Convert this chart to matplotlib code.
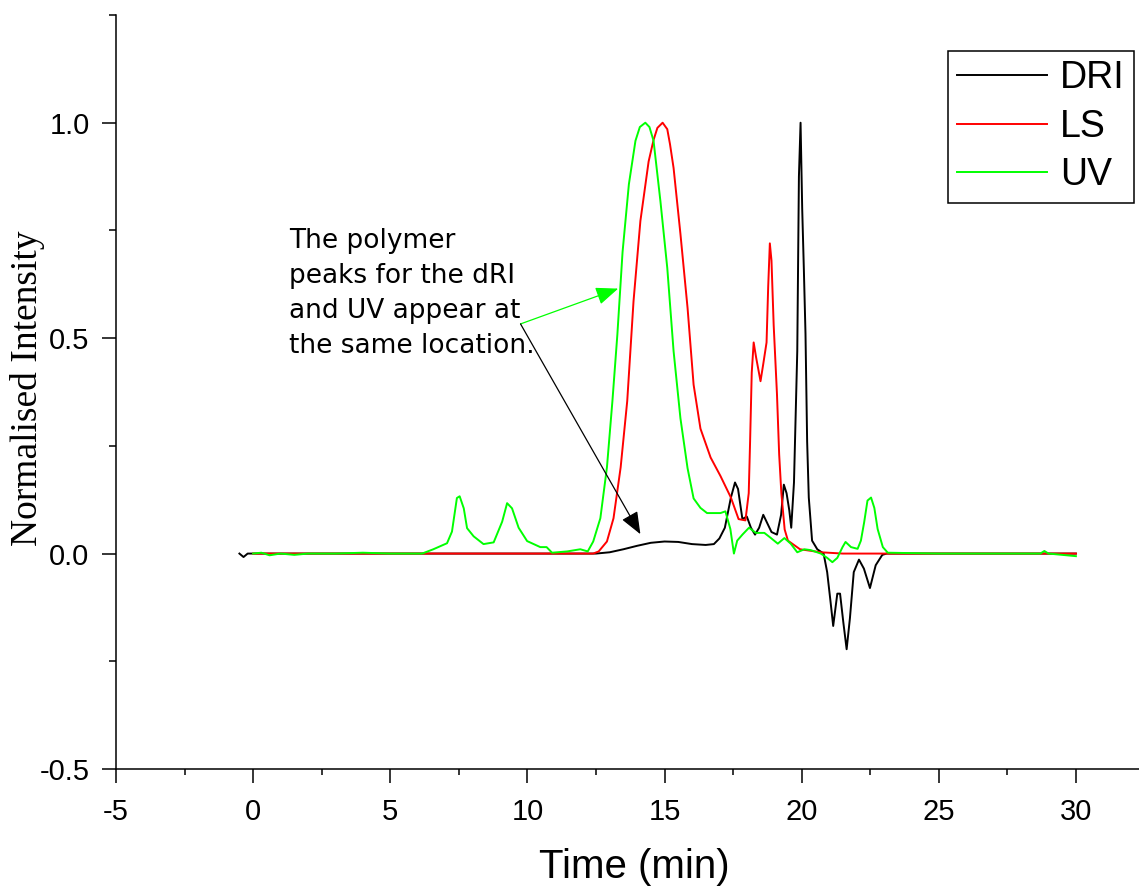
import matplotlib
matplotlib.use("Agg")
import matplotlib.pyplot as plt
from matplotlib.ticker import MultipleLocator

plt.rcParams["axes.unicode_minus"] = False

# ---- data ----
dri_t = [-0.5, -0.35, -0.2, 0.0, 5.0, 10.0, 12.5, 13.0, 13.5, 14.0, 14.5, 15.0,
         15.5, 16.0, 16.5, 16.8, 17.0, 17.2, 17.42, 17.57, 17.68, 17.84, 18.0,
         18.15, 18.3, 18.45, 18.6, 18.75, 18.9, 19.1, 19.25, 19.35, 19.45, 19.55,
         19.62, 19.72, 19.84, 19.9, 19.96, 20.02, 20.08, 20.14, 20.2,
         20.26, 20.38, 20.57, 20.8, 20.93, 21.05, 21.15, 21.3, 21.4, 21.52,
         21.64, 21.76, 21.9, 22.09, 22.27, 22.49, 22.7, 22.94, 23.1, 30.0]
dri_v = [0.0, -0.008, 0.0, 0.0, 0.0, 0.0, 0.0, 0.003, 0.01, 0.018, 0.025, 0.028,
         0.027, 0.022, 0.02, 0.022, 0.035, 0.06, 0.13, 0.165, 0.15, 0.08, 0.086,
         0.06, 0.044, 0.06, 0.09, 0.07, 0.05, 0.044, 0.09, 0.16, 0.14, 0.10,
         0.06, 0.165, 0.47, 0.875, 1.0, 0.8, 0.66, 0.51, 0.26,
         0.13, 0.03, 0.01, 0.0, -0.043, -0.11, -0.168, -0.093, -0.093, -0.16,
         -0.222, -0.15, -0.043, -0.014, -0.035, -0.08, -0.027, -0.003, 0.0, 0.0]

ls_t = [0.0, 12.4, 12.6, 12.9, 13.14, 13.4, 13.64, 13.87, 14.12, 14.42, 14.6,
        14.74, 14.93, 15.1, 15.2, 15.33, 15.58, 15.84, 16.06, 16.31, 16.68,
        17.04, 17.42, 17.7, 17.95, 18.07, 18.12, 18.18, 18.25, 18.34, 18.5,
        18.6, 18.72, 18.78, 18.84, 18.9, 18.98, 19.1, 19.18, 19.26, 19.38,
        19.5, 19.94, 20.7, 21.5, 30.0]
ls_v = [0.0, 0.0, 0.005, 0.028, 0.082, 0.2, 0.354, 0.586, 0.772, 0.91, 0.96,
        0.988, 1.0, 0.985, 0.95, 0.895, 0.742, 0.57, 0.392, 0.29, 0.223,
        0.18, 0.13, 0.08, 0.077, 0.14, 0.26, 0.42, 0.49, 0.455, 0.40,
        0.44, 0.49, 0.62, 0.72, 0.68, 0.53, 0.37, 0.23, 0.14, 0.056,
        0.03, 0.01, 0.003, 0.0, 0.0]

uv_t = [0.0, 0.3, 0.6, 1.0, 1.5, 2.0, 3.0, 4.0, 5.0, 6.16, 6.57, 7.07, 7.25,
        7.43, 7.53, 7.68, 7.8, 8.04, 8.4, 8.77, 9.08, 9.26, 9.44, 9.68, 9.99,
        10.47, 10.7, 10.9, 11.45, 11.93, 12.2, 12.4, 12.66, 12.9, 13.1, 13.28,
        13.47, 13.7, 13.94, 14.1, 14.3, 14.45, 14.6, 14.85, 15.1, 15.33, 15.58,
        15.84, 16.06, 16.31, 16.55, 17.04, 17.22, 17.4, 17.53, 17.65, 17.84,
        18.08, 18.33, 18.64, 18.88, 19.13, 19.37, 19.6, 19.84, 20.1, 20.33,
        20.7, 20.93, 21.12, 21.3, 21.49, 21.6, 21.8, 22.04, 22.16, 22.28,
        22.4, 22.53, 22.65, 22.77, 22.96, 23.14, 25.0, 28.7, 28.85, 29.0, 30.0]
uv_v = [0.0, 0.002, -0.004, 0.0, -0.003, 0.0, 0.0, 0.002, 0.0, 0.0, 0.01,
        0.024, 0.051, 0.129, 0.133, 0.105, 0.059, 0.04, 0.022, 0.026, 0.074,
        0.117, 0.105, 0.06, 0.029, 0.015, 0.015, 0.002, 0.005, 0.01, 0.005,
        0.028, 0.082, 0.2, 0.354, 0.508, 0.70, 0.857, 0.958, 0.99, 1.0, 0.99,
        0.958, 0.818, 0.663, 0.47, 0.314, 0.198, 0.128, 0.106, 0.094, 0.094,
        0.098, 0.057, 0.0, 0.03, 0.044, 0.06, 0.048, 0.048, 0.036, 0.023,
        0.036, 0.023, 0.003, 0.01, 0.008, 0.0, -0.01, -0.02, -0.01, 0.015,
        0.027, 0.015, 0.011, 0.03, 0.073, 0.123, 0.13, 0.106, 0.057, 0.015,
        0.002, 0.0, 0.0, 0.006, 0.0, -0.006]

series_labels = ["DRI", "LS", "UV"]
note_text = "The polymer\npeaks for the dRI\nand UV appear at\nthe same location."

# ---- figure ----
fig = plt.figure(figsize=(11.39, 8.92), dpi=100)
ax = fig.add_axes([116 / 1139, 123 / 892, 1023 / 1139, 754 / 892])

ax.plot(dri_t, dri_v, color="black", lw=1.4, label=series_labels[0])
ax.plot(ls_t, ls_v, color="#ff0000", lw=1.4, label=series_labels[1])
ax.plot(uv_t, uv_v, color="#00ff00", lw=1.4, label=series_labels[2])

ax.set_xlim(-5, 32.3)
ax.set_ylim(-0.5, 1.25)
ax.xaxis.set_major_locator(MultipleLocator(5))
ax.xaxis.set_minor_locator(MultipleLocator(2.5))
ax.yaxis.set_major_locator(MultipleLocator(0.5))
ax.yaxis.set_minor_locator(MultipleLocator(0.25))
ax.yaxis.set_major_formatter(plt.FormatStrFormatter("%.1f"))

for side in ("top", "right"):
    ax.spines[side].set_visible(False)
for side in ("left", "bottom"):
    ax.spines[side].set_linewidth(1.1)

ax.tick_params(axis="x", which="major", direction="out", length=10, width=1.1, pad=11)
ax.tick_params(axis="x", which="minor", direction="out", length=4.5, width=1.1)
ax.tick_params(axis="y", which="major", direction="out", length=10, width=1.1, pad=9)
ax.tick_params(axis="y", which="minor", direction="out", length=5, width=1.1)
for lab in ax.get_xticklabels() + ax.get_yticklabels():
    lab.set_fontfamily("Liberation Sans")
    lab.set_fontsize(21)

ax.set_xlabel("Time (min)", fontfamily="Liberation Sans", fontsize=29)
ax.xaxis.set_label_coords(0.507, -0.105)
ax.set_ylabel("Normalised Intensity", fontfamily="Liberation Serif", fontsize=27)
ax.yaxis.set_label_coords(-0.069, 0.505)

leg = ax.legend(loc="upper right", bbox_to_anchor=(1134 / 1139, 841 / 892),
                bbox_transform=fig.transFigure, borderaxespad=0,
                prop={"family": "Liberation Sans", "size": 27},
                frameon=True, fancybox=False, shadow=False,
                handlelength=2.4, handletextpad=0.34, labelspacing=0.33,
                borderpad=0.25)
leg.get_frame().set_edgecolor("black")
leg.get_frame().set_linewidth(1.1)
leg.get_frame().set_alpha(1)
for line in leg.get_lines():
    line.set_linewidth(1.4)

ax.text(1.3, 0.755, note_text, fontfamily="DejaVu Sans", fontsize=19,
        ha="left", va="top", linespacing=1.45)

tail = (9.75, 0.533)
ax.annotate("", xy=(13.31, 0.615), xytext=tail,
            arrowprops=dict(arrowstyle="-|>,head_length=0.55,head_width=0.22",
                            color="#00ff00", lw=0.9, shrinkA=0, shrinkB=0,
                            mutation_scale=25))
ax.annotate("", xy=(14.12, 0.045), xytext=tail,
            arrowprops=dict(arrowstyle="-|>,head_length=0.55,head_width=0.22",
                            color="black", lw=0.9, shrinkA=0, shrinkB=0,
                            mutation_scale=25))

fig.savefig("out.png", dpi=100)
